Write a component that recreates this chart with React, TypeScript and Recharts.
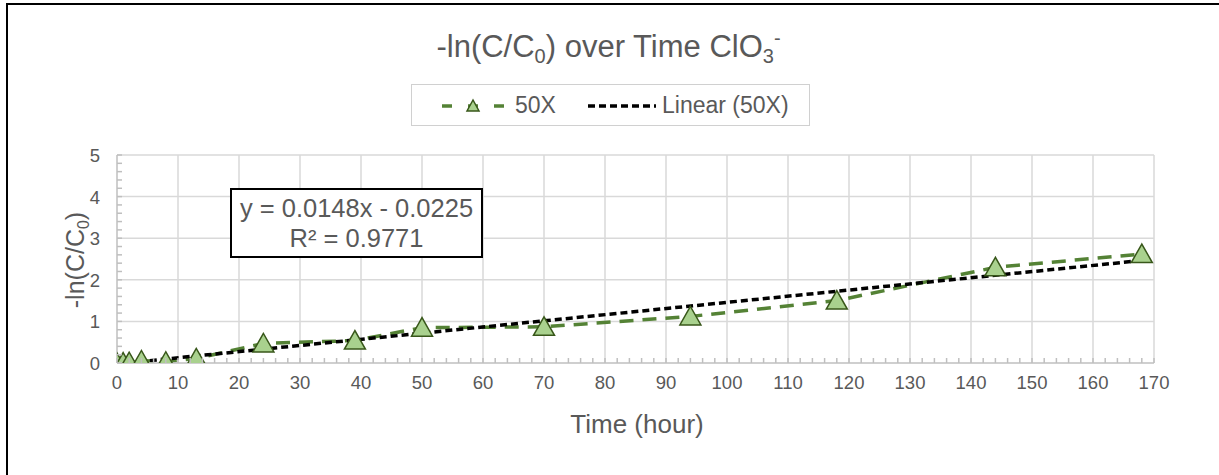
import React from 'react';
import { ComposedChart, Line, XAxis, YAxis, ReferenceLine, Legend } from 'recharts';

// ---- data ----
const timeHours = [0, 1, 2, 4, 8, 13, 24, 39, 50, 70, 94, 118, 144, 168];
const negLnValues = [0, 0.01, 0.02, 0.06, 0.03, 0.11, 0.47, 0.54, 0.85, 0.87, 1.12, 1.5, 2.3, 2.62];
const trendX = [0, 168];
const trendY = [-0.0225, 2.464];
const xMajorTicks = [0, 10, 20, 30, 40, 50, 60, 70, 80, 90, 100, 110, 120, 130, 140, 150, 160, 170];
const yMajorTicks = [0, 1, 2, 3, 4, 5];
const xMinorTicks = Array.from({ length: 86 }, (_, i) => i * 2);
const yMinorTicks = Array.from({ length: 26 }, (_, i) => Math.round(i * 2) / 10);

const seriesData = timeHours.map((x, i) => ({ x, y: negLnValues[i] }));
const trendData = trendX.map((x, i) => ({ x, y: trendY[i] }));

const FONT = '"Liberation Sans", Arial, sans-serif';
const TEXT = '#595959';
const GREEN = '#548235';
const TRI_FILL = '#A9D18E';
const TRI_STROKE = '#38571A';
const GRID = '#d9d9d9';
const AXIS = '#bfbfbf';

const W = 1219;
const H = 475;

const XTick = (props: any) => {
  const { x, y, payload } = props;
  const v = payload.value;
  const major = xMajorTicks.includes(v);
  return (
    <g>
      <line x1={x} x2={x} y1={y} y2={y - 5} stroke={AXIS} strokeWidth={1.5} />
      {major && (
        <text x={x} y={y + 26} textAnchor="middle" fill={TEXT} fontSize={18.5} fontFamily={FONT}>
          {v}
        </text>
      )}
    </g>
  );
};

const YTick = (props: any) => {
  const { x, y, payload } = props;
  const v = payload.value;
  const major = yMajorTicks.some((t) => Math.abs(t - v) < 1e-6);
  return (
    <g>
      <line x1={x} x2={x + 5} y1={y} y2={y} stroke={AXIS} strokeWidth={1.5} />
      {major && (
        <text x={x - 17} y={y + 7} textAnchor="end" fill={TEXT} fontSize={18.5} fontFamily={FONT}>
          {Math.round(v)}
        </text>
      )}
    </g>
  );
};

const TriangleDot = (props: any) => {
  const { cx, cy, index } = props;
  if (cx == null || cy == null) return <g key={index} />;
  return (
    <polygon
      key={index}
      points={`${cx},${cy - 10} ${cx - 10.5},${cy + 8.5} ${cx + 10.5},${cy + 8.5}`}
      fill={TRI_FILL}
      stroke={TRI_STROKE}
      strokeWidth={1.5}
    />
  );
};

const LegendContent = () => (
  <div
    style={{
      width: 399,
      height: 42,
      border: '1.5px solid #d0d0d0',
      boxSizing: 'border-box',
      position: 'relative',
      fontFamily: FONT,
      fontSize: 23,
      color: TEXT,
      background: '#fff',
    }}
  >
    <svg width={399} height={42} style={{ position: 'absolute', left: 0, top: 0 }}>
      <line x1={30} x2={98} y1={21} y2={21} stroke={GREEN} strokeWidth={3.5} strokeDasharray="10 16" />
      <polygon points="61,15 55,26 67,26" fill={TRI_FILL} stroke={TRI_STROKE} strokeWidth={1.5} />
      <line x1={176} x2={244} y1={21} y2={21} stroke="#000" strokeWidth={3.5} strokeDasharray="7 4" />
    </svg>
    <span style={{ position: 'absolute', left: 103, top: 7, lineHeight: '26px' }}>50X</span>
    <span style={{ position: 'absolute', left: 250, top: 7, lineHeight: '26px' }}>Linear (50X)</span>
  </div>
);

export default function App() {
  return (
    <div style={{ position: 'absolute', left: 0, top: 0, width: W, height: H, overflow: 'hidden', background: '#fff', fontFamily: FONT }}>
      <div
        style={{
          position: 'absolute',
          left: 6,
          top: 3,
          width: 1400,
          height: 700,
          borderTop: '2.5px solid #000',
          borderLeft: '2.5px solid #000',
        }}
      />
      <ComposedChart
        width={W}
        height={H}
        margin={{ top: 155, left: 57, right: 65, bottom: 82 }}
        style={{ position: 'absolute', left: 0, top: 0 }}
      >
        <XAxis
          type="number"
          dataKey="x"
          domain={[0, 170]}
          ticks={xMinorTicks}
          interval={0}
          height={30}
          tickSize={0}
          tickMargin={0}
          tickLine={false}
          tick={<XTick />}
          axisLine={{ stroke: AXIS, strokeWidth: 1.5 }}
          allowDataOverflow
        />
        <YAxis
          type="number"
          domain={[0, 5]}
          ticks={yMinorTicks}
          interval={0}
          width={60}
          tickSize={0}
          tickMargin={0}
          tickLine={false}
          tick={<YTick />}
          axisLine={{ stroke: AXIS, strokeWidth: 1.5 }}
          allowDataOverflow
        />
        {xMajorTicks.slice(1).map((t) => (
          <ReferenceLine key={'vx' + t} x={t} stroke={GRID} strokeWidth={1.5} />
        ))}
        {yMajorTicks.slice(1).map((t) => (
          <ReferenceLine key={'hy' + t} y={t} stroke={GRID} strokeWidth={1.5} />
        ))}
        <Legend
          layout="horizontal"
          verticalAlign="middle"
          align="center"
          content={<LegendContent />}
          wrapperStyle={{ position: 'absolute', left: 411, top: 84, width: 399, height: 42 }}
        />
        <Line
          data={seriesData}
          dataKey="y"
          name="50X"
          stroke={GREEN}
          strokeWidth={3.5}
          strokeDasharray="14 9"
          dot={TriangleDot}
          activeDot={false}
          isAnimationActive={false}
          legendType="triangle"
        />
        <Line
          data={trendData}
          dataKey="y"
          name="Linear (50X)"
          stroke="#000"
          strokeWidth={3.5}
          strokeDasharray="7 4"
          dot={false}
          activeDot={false}
          isAnimationActive={false}
        />
      </ComposedChart>
      {/* Title */}
      <div
        style={{
          position: 'absolute',
          left: 0,
          width: W - 2,
          top: 30,
          textAlign: 'center',
          fontSize: 31,
          color: TEXT,
          lineHeight: '34px',
          whiteSpace: 'nowrap',
        }}
      >
        -ln(C/C<sub style={{ fontSize: 20, verticalAlign: -6, lineHeight: 0 }}>0</sub>) over Time ClO
        <sub style={{ fontSize: 20, verticalAlign: -6, lineHeight: 0 }}>3</sub>
        <sup style={{ fontSize: 20, verticalAlign: 12, lineHeight: 0 }}>-</sup>
      </div>
      {/* Y axis title */}
      <div
        style={{
          position: 'absolute',
          left: 75,
          top: 260,
          transform: 'translate(-50%, -50%) rotate(-90deg)',
          fontSize: 25,
          color: TEXT,
          whiteSpace: 'nowrap',
          lineHeight: '30px',
        }}
      >
        -ln(C/C<sub style={{ fontSize: 16, verticalAlign: -5, lineHeight: 0 }}>0</sub>)
      </div>
      {/* X axis title */}
      <div
        style={{
          position: 'absolute',
          left: 637,
          top: 424,
          transform: 'translate(-50%, -50%)',
          fontSize: 26,
          color: TEXT,
          whiteSpace: 'nowrap',
          lineHeight: '30px',
        }}
      >
        Time (hour)
      </div>
      {/* Trendline equation */}
      <div
        style={{
          position: 'absolute',
          left: 230,
          top: 188,
          width: 253,
          height: 70,
          boxSizing: 'border-box',
          border: '2.5px solid #000',
          background: '#fff',
          textAlign: 'center',
          fontSize: 25.5,
          color: TEXT,
          lineHeight: '30px',
          paddingTop: 3,
          whiteSpace: 'nowrap',
        }}
      >
        <div>y = 0.0148x - 0.0225</div>
        <div>R² = 0.9771</div>
      </div>
    </div>
  );
}
